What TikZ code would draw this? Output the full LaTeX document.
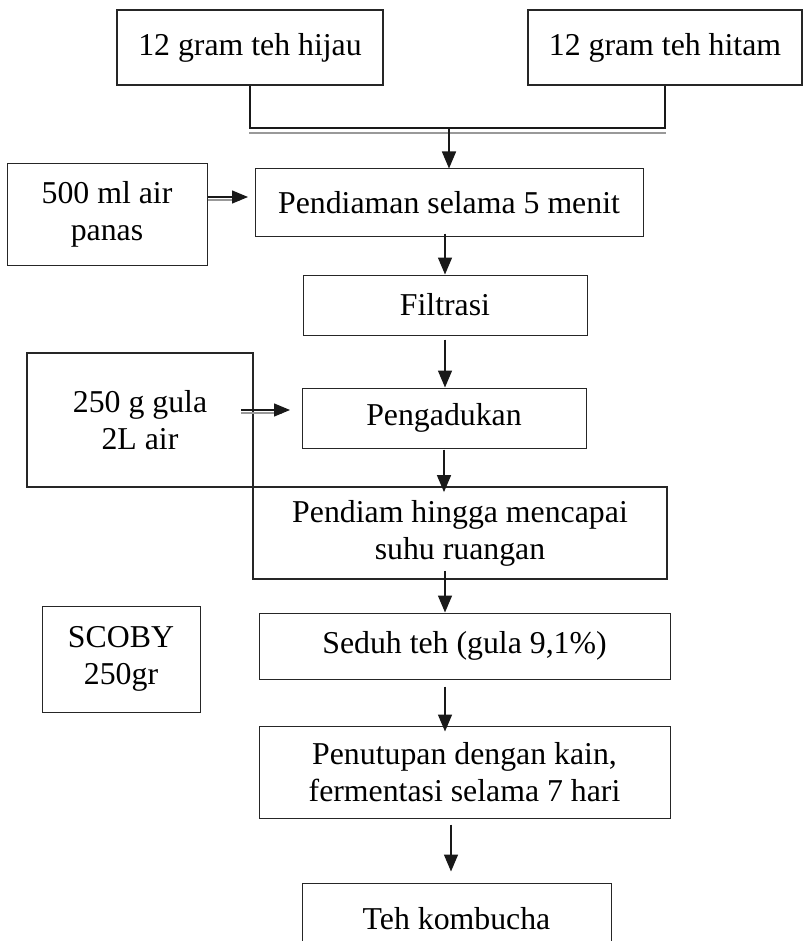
\documentclass[tikz,border=0pt]{standalone}
\usepackage{fontspec}
\setmainfont{Liberation Serif}
\usetikzlibrary{arrows.meta,calc}
\begin{document}
\begin{tikzpicture}[x=1pt,y=-1pt,
  box/.style={draw=black!85, line width=1pt, rectangle, inner sep=0pt, align=center,
    font=\fontsize{31.8}{37}\selectfont},
  thickbox/.style={box, line width=1.8pt},
  arr/.style={draw=black!90, line width=1.5pt, -{Triangle[length=17pt,width=14pt]}},
  shadowline/.style={draw=black!40, line width=1.2pt}
]
\useasboundingbox (0,0) rectangle (804,941);
\clip (0,0) rectangle (804,941);
\fill[white] (0,0) rectangle (804,941);

\node[thickbox, minimum width=266pt, minimum height=75pt] (hijau) at (250,47.5) {12 gram teh hijau};
\node[thickbox, minimum width=274pt, minimum height=75pt] (hitam) at (665,47.5) {12 gram teh hitam};
\node[box, minimum width=200pt, minimum height=101pt] (air) at (107,214.5) {500 ml air\\panas};
\node[box, minimum width=388pt, minimum height=67pt] (pend) at (449,202.5) {Pendiaman selama 5 menit};
\node[box, minimum width=284pt, minimum height=60pt] (filt) at (445,305) {Filtrasi};
\node[thickbox, minimum width=226pt, minimum height=134pt] (gula) at (140,420) {250 g gula\\2L air};
\node[box, minimum width=284pt, minimum height=60pt] (aduk) at (444,418) {Pengadukan};
\node[thickbox, minimum width=414pt, minimum height=92pt] (diam) at (460,533) {Pendiam hingga mencapai\\suhu ruangan};
\node[box, minimum width=411pt, minimum height=66pt] (seduh) at (464.5,646) {Seduh teh (gula 9,1\%)};
\node[box, minimum width=158pt, minimum height=106pt] (scoby) at (121,659) {SCOBY\\250gr};
\node[box, minimum width=411pt, minimum height=92pt] (tutup) at (464.5,772) {Penutupan dengan kain,\\fermentasi selama 7 hari};
\node[box, minimum width=309pt, minimum height=72pt] (kombu) at (456.5,919) {Teh kombucha};

% join of the two tea boxes
\coordinate (join) at (449,128);
\coordinate (g1) at (249,133);
\coordinate (g2) at (666,133);
\draw[line width=1.5pt, black!90] (hijau.south) |- (join) -| (hitam.south);
\draw[shadowline] (g1) -- (g2);
\draw[arr] (join) -- (pend.north -| join);

% main chain
\draw[arr] ($(pend.south -| filt.north)+(0,-3)$) -- (filt.north);
\draw[arr] ($(filt.south)+(0,4)$) -- (aduk.north -| filt.south);
\draw[arr] ($(aduk.south)+(0,1)$) -- ($(diam.north -| aduk.south)+(0,6)$);
\draw[arr] ($(diam.south -| 445,0)+(0,-9)$) -- (seduh.north -| 445,0);
\draw[arr] ($(seduh.south -| 445,0)+(0,7)$) -- ($(tutup.north -| 445,0)+(0,6)$);
\draw[arr] ($(tutup.south -| 451,0)+(0,6)$) -- ($(kombu.north -| 451,0)+(0,-11)$);

% double arrows from the inputs
\coordinate (a1) at (air.east |- 0,197);
\coordinate (a2) at (248,197);
\draw[shadowline] ($(a1)+(0,3)$) -- ($(a2)+(-8,3)$);
\draw[arr, line width=1.3pt, -{Triangle[length=16pt,width=13pt]}] (a1) -- (a2);
\coordinate (b1) at (241,410);
\coordinate (b2) at (290,410);
\draw[shadowline] ($(b1)+(0,3)$) -- ($(b2)+(-8,3)$);
\draw[arr, line width=1.3pt, -{Triangle[length=16pt,width=13pt]}] (b1) -- (b2);
\end{tikzpicture}
\end{document}
